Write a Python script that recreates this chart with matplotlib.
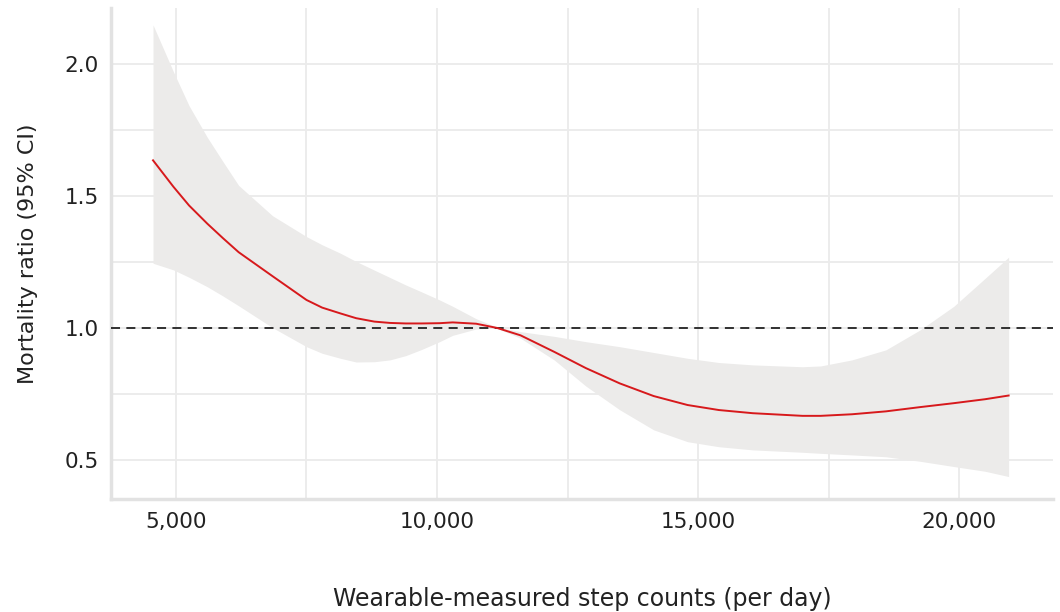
import numpy as np
import matplotlib.pyplot as plt
from matplotlib.ticker import MultipleLocator, FuncFormatter

plt.rcParams['font.family'] = ['DejaVu Sans']

# step counts per day
steps = np.array([4560, 4950, 5250, 5600, 5900, 6200, 6850, 7500, 7800, 8150, 8450,
                  8800, 9100, 9400, 9700, 10050, 10300, 10750, 11150, 11600,
                  12250, 12850, 13500, 14150, 14800, 15400, 16050, 17000, 17350,
                  17950, 18600, 19250, 19900, 20500, 20950])

ratio = np.array([1.635, 1.535, 1.464, 1.395, 1.340, 1.287, 1.196, 1.106, 1.077,
                  1.055, 1.037, 1.024, 1.019, 1.017, 1.017, 1.018, 1.021, 1.016,
                  1.000, 0.972, 0.909, 0.848, 0.790, 0.742, 0.708, 0.689, 0.677,
                  0.667, 0.667, 0.673, 0.684, 0.700, 0.715, 0.730, 0.744])

ci_upper = np.array([2.148, 1.971, 1.842, 1.722, 1.630, 1.540, 1.425, 1.346, 1.315,
                     1.283, 1.252, 1.219, 1.191, 1.163, 1.137, 1.106, 1.082, 1.035,
                     1.003, 0.986, 0.968, 0.948, 0.929, 0.907, 0.885, 0.869, 0.860,
                     0.853, 0.856, 0.879, 0.917, 0.992, 1.082, 1.188, 1.268])

ci_lower = np.array([1.245, 1.220, 1.192, 1.156, 1.121, 1.084, 1.001, 0.929, 0.904,
                     0.885, 0.871, 0.872, 0.879, 0.895, 0.918, 0.948, 0.972, 0.996,
                     0.999, 0.961, 0.878, 0.780, 0.690, 0.614, 0.569, 0.550, 0.538,
                     0.529, 0.525, 0.519, 0.512, 0.495, 0.475, 0.457, 0.437])

fig = plt.figure(figsize=(10.6, 6.12), dpi=100)
ax = fig.add_axes([111 / 1060, 1 - 499 / 612, (1053 - 111) / 1060, (499 - 8) / 612])

grid_col = '#ebebeb'
ax.set_axisbelow(True)
ax.xaxis.set_major_locator(MultipleLocator(5000))
ax.xaxis.set_minor_locator(MultipleLocator(2500))
ax.yaxis.set_major_locator(MultipleLocator(0.5))
ax.yaxis.set_minor_locator(MultipleLocator(0.25))
ax.grid(which='both', color=grid_col, linewidth=1.3)

ax.fill_between(steps, ci_lower, ci_upper, color='#ecebea', linewidth=0, zorder=2)
ax.axhline(1.0, color='#222222', linestyle=(0, (5, 3.5)), linewidth=1.3, zorder=3)
ax.plot(steps, ratio, color='#d7191c', linewidth=1.4, zorder=4)

ax.set_xlim(3755, 21800)
ax.set_ylim(0.352, 2.212)

for side in ['top', 'right']:
    ax.spines[side].set_visible(False)
for side in ['left', 'bottom']:
    ax.spines[side].set_color('#e2e2e2')
    ax.spines[side].set_linewidth(2.5)

ax.xaxis.set_major_formatter(FuncFormatter(lambda v, p: f'{int(v):,}'))
ax.yaxis.set_major_formatter(FuncFormatter(lambda v, p: f'{v:.1f}'))
ax.tick_params(which='both', length=0, labelsize=15.5, labelcolor='#222222')
ax.tick_params(axis='x', pad=9)
ax.tick_params(axis='y', pad=9)

ax.set_xlabel('Wearable-measured step counts (per day)', fontsize=17,
              color='#222222', labelpad=40)
ax.set_ylabel('Mortality ratio (95% CI)', fontsize=16, color='#222222', labelpad=19)

fig.savefig('out.png', dpi=100)
